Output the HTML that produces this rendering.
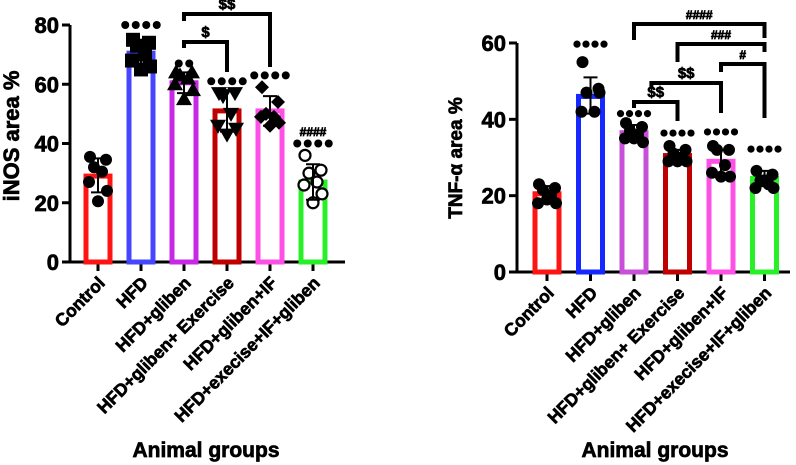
<!DOCTYPE html>
<html><head><meta charset="utf-8"><style>
html,body{margin:0;padding:0;background:#fff;}
svg{display:block;font-family:"Liberation Sans",Arial,sans-serif;font-weight:700;}
svg text{font-weight:700;stroke:#000;stroke-width:0.7px;fill:#000;}
</style></head><body>
<svg id="chart" width="796" height="465" viewBox="0 0 796 465" xmlns="http://www.w3.org/2000/svg"></svg>
<script>
const categories = ["Control","HFD","HFD+gliben","HFD+gliben+ Exercise","HFD+gliben+IF","HFD+execise+IF+gliben"];
const colorsL = ["#ff1414","#4646ff","#c828e6","#c00000","#ff50e6","#28f028"];
const colorsR = ["#ff1414","#1428ff","#c850d8","#c00000","#ff50e6","#28f028"];
// iNOS panel
const inosMeans = [29, 70.5, 60.5, 51, 51, 27];
const inosErrLo = [23.5, 67, 57, 44, 46, 21];
const inosErrHi = [35, 74, 64, 58, 56, 33];
const inosPoints = [
 [35.5,34.5,32,30.5,27,24,20.5],
 [75,74,73,70,68,66,65],
 [64,64,63,62,60,58,55],
 [57,57,56,50,46,45,43],
 [59,54,50,49,49,47,46],
 [36,31,30,27,26,23,20]];
const inosStarY = [null,80,67,61,63,40];
const inosStarN = [0,4,2,4,4,4];
const inosTicks = [0,20,40,60,80];
// TNF panel
const tnfMeans = [20.5, 46, 36.5, 30.5, 29, 24.5];
const tnfErrLo = [18.5, 41.5, 34.5, 29, 25.5, 22.5];
const tnfErrHi = [22.5, 51, 38.5, 32, 32, 26.5];
const tnfPoints = [
 [23,22,21.5,20,18,18,19],
 [55,48,47,42,42,47],
 [39,38,37,36,35,34,35],
 [33,32,31,30,29,29,29],
 [33,32,32,28,26,25,25],
 [26.5,25.5,24,23,22,22,24]];
const tnfStarY = [null,59.7,41.5,36.4,36.7,32.2];
const tnfTicks = [0,20,40,60];

const NS="http://www.w3.org/2000/svg";
const svg=document.getElementById('chart');
function el(tag,attrs,parent){const e=document.createElementNS(NS,tag);for(const k in attrs)e.setAttribute(k,attrs[k]);if(tag==='text')e.setAttribute('font-weight','bold');(parent||svg).appendChild(e);return e;}

function panel(cfg){
 const g=el('g',{});
 
 
 const y=v=>cfg.y0-(v/cfg.ymax)*(cfg.y0-cfg.yTop);
 const x=i=>cfg.x0+i*cfg.step;
 const ya=el('line',{x1:cfg.ax,y1:y(cfg.ymax),x2:cfg.ax,y2:cfg.y0+1,stroke:'#000','stroke-width':3},g);
 
 const xa=el('line',{x1:cfg.ax-1,y1:cfg.y0,x2:cfg.axEnd,y2:cfg.y0,stroke:'#000','stroke-width':3},g);
 
 cfg.ticks.forEach(t=>{
  el('line',{x1:cfg.ax-8,y1:y(t),x2:cfg.ax,y2:y(t),stroke:'#000','stroke-width':3},g);
  const tl=el('text',{x:cfg.ax-11,y:y(t)+8,'text-anchor':'end','font-size':22},g);tl.textContent=t;
  
 });
 const yt=el('text',{x:0,y:0,'text-anchor':'middle','font-size':cfg.ytSize,transform:`translate(${cfg.ytX},${cfg.ytY}) rotate(-90)`},g);
 yt.textContent=cfg.ytitle;
 const xt=el('text',{x:cfg.xtX,y:457,'text-anchor':'middle','font-size':21},g);
 xt.textContent='Animal groups';
 categories.forEach((c,i)=>{
  const cx=x(i);
  el('line',{x1:cx,y1:cfg.y0,x2:cx,y2:cfg.y0+9,stroke:'#000','stroke-width':3},g);
  const lab=el('text',{x:0,y:0,'text-anchor':'end','font-size':17.5,transform:`translate(${cx+8},${cfg.y0+22}) rotate(-45)`},g);
  lab.textContent=c;
  const m=cfg.means[i];
  const bar=el('rect',{x:cx-12,y:y(m),width:24,height:cfg.y0-y(m),fill:'none',stroke:cfg.colors[i],'stroke-width':5},g);
  
  cfg.points[i].forEach((v,j)=>{
   const dx=[-8,8,-4,4,-9,9,0][j%7];
   const px=cx+dx,py=y(v);
   let p;
   const sh=cfg.shapes[i];
   if(sh==='sq')p=el('rect',{x:px-7,y:py-7,width:14,height:14,fill:'#000'},g);
   else if(sh==='tu')p=el('polygon',{points:`${px},${py-8} ${px-8},${py+6} ${px+8},${py+6}`,fill:'#000'},g);
   else if(sh==='td')p=el('polygon',{points:`${px},${py+8} ${px-8},${py-6} ${px+8},${py-6}`,fill:'#000'},g);
   else if(sh==='di')p=el('polygon',{points:`${px},${py-7} ${px+7},${py} ${px},${py+7} ${px-7},${py}`,fill:'#000'},g);
   else if(sh==='oc')p=el('circle',{cx:px,cy:py,r:5.5,fill:'#fff',stroke:'#000','stroke-width':2.2},g);
   else p=el('circle',{cx:px,cy:py,r:6,fill:'#000'},g);
   
  });
  const eb=el('path',{d:`M${cx},${y(cfg.lo[i])}V${y(cfg.hi[i])}M${cx-7},${y(cfg.lo[i])}H${cx+7}M${cx-7},${y(cfg.hi[i])}H${cx+7}`,stroke:'#000','stroke-width':2,fill:'none'},g);
  
  if(cfg.starY[i]!=null){
   const n=cfg.starN?cfg.starN[i]:4;
   for(let k=0;k<n;k++){
    const d=el('circle',{cx:cx-(n-1)*cfg.sp/2+k*cfg.sp,cy:y(cfg.starY[i]),r:cfg.sr,fill:'#000'},g);
    
   }
  }
 });
 cfg.brackets.forEach(b=>{
  const bx1=x(b.a),bx2=x(b.b);
  const br=el('path',{d:`M${bx1},${b.l}V${b.top}H${bx2}V${b.r}`,stroke:'#000','stroke-width':4,fill:'none'},g);
  
  const bt=el('text',{x:(bx1+bx2)/2,y:b.top-5,'text-anchor':'middle','font-size':b.fs||15},g);
  bt.textContent=b.t;
 });
 if(cfg.extraText)cfg.extraText.forEach(t=>{const e=el('text',{x:x(t.i),y:y(t.v),'text-anchor':'middle','font-size':12},g);e.textContent=t.t;});
}
panel({name:'inos-panel',means:inosMeans,lo:inosErrLo,hi:inosErrHi,points:inosPoints,starY:inosStarY,starN:inosStarN,ticks:inosTicks,ymax:80,y0:262,yTop:25,ax:70,axEnd:345,x0:98,step:43,colors:colorsL,sp:10.5,sr:4,
 shapes:['c','sq','tu','td','di','oc'],ytitle:'iNOS area %',ytSize:22,ytX:19,ytY:136,xtX:206,
 brackets:[{a:2,b:3,top:42,l:48,r:72,t:'$'},{a:2,b:4,top:14,l:21,r:67,t:'$$'}],
 extraText:[{i:5,v:42.5,t:'####'}]});
panel({name:'tnf-panel',means:tnfMeans,lo:tnfErrLo,hi:tnfErrHi,points:tnfPoints,starY:tnfStarY,ticks:tnfTicks,ymax:60,y0:272,yTop:43,ax:517,axEnd:790,x0:547,step:43.5,colors:colorsR,sp:9,sr:3.6,
 shapes:['c','c','c','c','c','c'],ytitle:'TNF-α area %',ytSize:19,ytX:462,ytY:158,xtX:655,
 brackets:[{a:2,b:5,top:24,l:40,r:38,t:'####',fs:12},{a:3,b:5,top:44,l:62,r:52,t:'###',fs:12},{a:4,b:5,top:64,l:72,r:118,t:'#',fs:12},{a:2.4,b:4,top:83,l:88,r:113,t:'$$'},{a:2,b:3,top:102,l:108,r:121,t:'$$'}]});
</script>
</body></html>
